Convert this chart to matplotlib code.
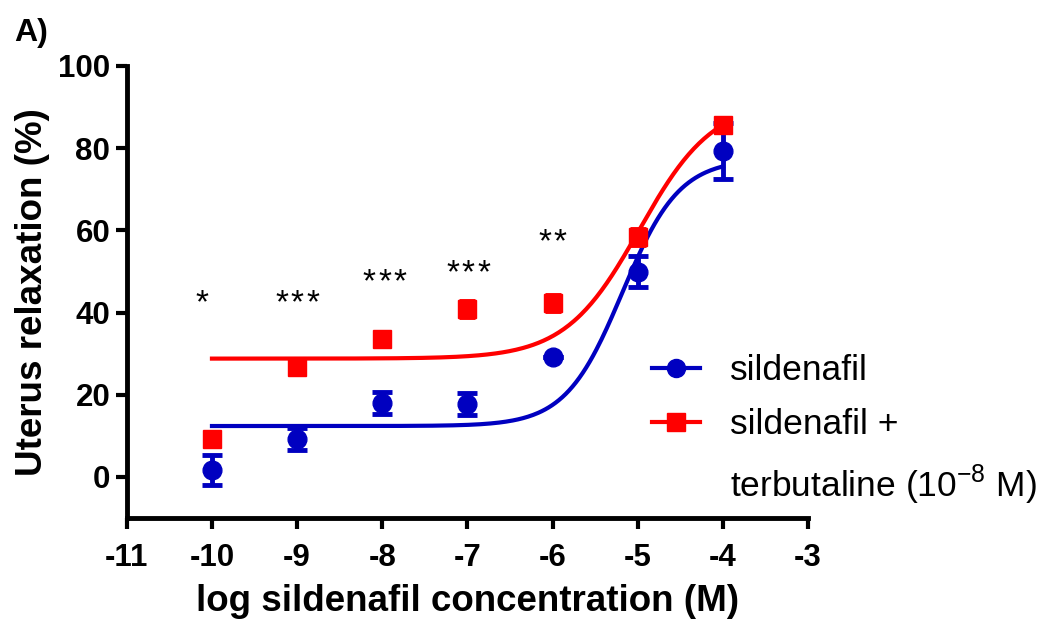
import numpy as np
import matplotlib
matplotlib.use("Agg")
import matplotlib.pyplot as plt
from matplotlib.lines import Line2D

plt.rcParams['font.family'] = ['Liberation Sans', 'DejaVu Sans']
plt.rcParams['axes.unicode_minus'] = False
plt.rcParams['mathtext.fontset'] = 'custom'
plt.rcParams['mathtext.rm'] = 'Liberation Sans'

log_conc = [-10, -9, -8, -7, -6, -5, -4]

sil_mean = [1.7, 9.2, 18.0, 17.8, 29.2, 49.9, 79.3]
sil_sem = [3.6, 2.7, 2.7, 2.7, 0.0, 3.8, 6.9]

terb_mean = [9.2, 26.8, 33.6, 40.9, 42.3, 58.4, 85.6]
terb_sem = [0.8, 0.8, 0.8, 2.0, 2.0, 2.0, 0.8]

# four-parameter logistic fits: bottom, top, logEC50, hill slope
sil_fit = (12.4, 77.4, -5.18, 1.3)
terb_fit = (28.8, 91.6, -4.98, 1.0)

stars = ['*', '***', '***', '***', '**']
star_x = [-10.12, -9.0, -7.97, -6.99, -6.0]
star_y = [43.6, 43.6, 48.7, 50.9, 58.4]

blue = '#0000C0'
red = '#FF0000'


def logistic(x, bottom, top, ec50, hill):
    return bottom + (top - bottom) / (1 + 10 ** ((ec50 - x) * hill))


fig = plt.figure(figsize=(10.48, 6.28), dpi=100)
ax = fig.add_axes([0.121, 0.175, 0.650, 0.72])

xs = np.linspace(-10, -4, 300)
ax.plot(xs, logistic(xs, *sil_fit), color=blue, lw=3, zorder=2)
ax.plot(xs, logistic(xs, *terb_fit), color=red, lw=3, zorder=2)

ax.errorbar(log_conc, sil_mean, yerr=sil_sem, fmt='o', color=blue, ms=13.5,
            elinewidth=3.5, capsize=7.5, capthick=3.5, zorder=3)
ax.errorbar(log_conc, terb_mean, yerr=terb_sem, fmt='s', color=red, ms=13.5,
            elinewidth=3.5, capsize=6, capthick=3.5, zorder=4)

# significance stars, one glyph each so they can be spaced out
for s, x, y in zip(stars, star_x, star_y):
    n = len(s)
    for i in range(n):
        ax.annotate('*', (x, y), xytext=((i - (n - 1) / 2) * 11.2, -4),
                    textcoords='offset points', ha='center', va='center',
                    fontsize=24)

h1 = Line2D([], [], color=blue, lw=3, marker='o', ms=13)
h2 = Line2D([], [], color=red, lw=3, marker='s', ms=13)
h3 = Line2D([], [], lw=0, alpha=0)
fig.legend([h1, h2, h3], ['sildenafil', 'sildenafil +', 'terbutaline (10$^{-8}$ M)'],
           loc='upper left', bbox_to_anchor=(652 / 1048, 1 - 354 / 628),
           frameon=False, fontsize=25.5, handlelength=1.35, handletextpad=0.85,
           labelspacing=0.6, borderpad=0, borderaxespad=0)

ax.set_xlim(-11, -3)
ax.set_ylim(-10, 100)
ax.set_xticks(range(-11, -2))
ax.set_yticks(range(0, 101, 20))
for side in ['top', 'right']:
    ax.spines[side].set_visible(False)
for side in ['left', 'bottom']:
    ax.spines[side].set_linewidth(3.5)
ax.tick_params(width=3, length=8, labelsize=22.5)
ax.tick_params(axis='x', pad=10)
ax.tick_params(axis='y', pad=4)
for lab in ax.get_xticklabels() + ax.get_yticklabels():
    lab.set_fontweight('bold')

ax.set_xlabel('log sildenafil concentration (M)', fontsize=26.5, fontweight='bold', labelpad=8)
ax.set_ylabel('Uterus relaxation (%)', fontsize=26.5, fontweight='bold', labelpad=6)
fig.text(0.014, 0.935, 'A)', fontsize=23, fontweight='bold')

fig.savefig('out.png', dpi=100)
